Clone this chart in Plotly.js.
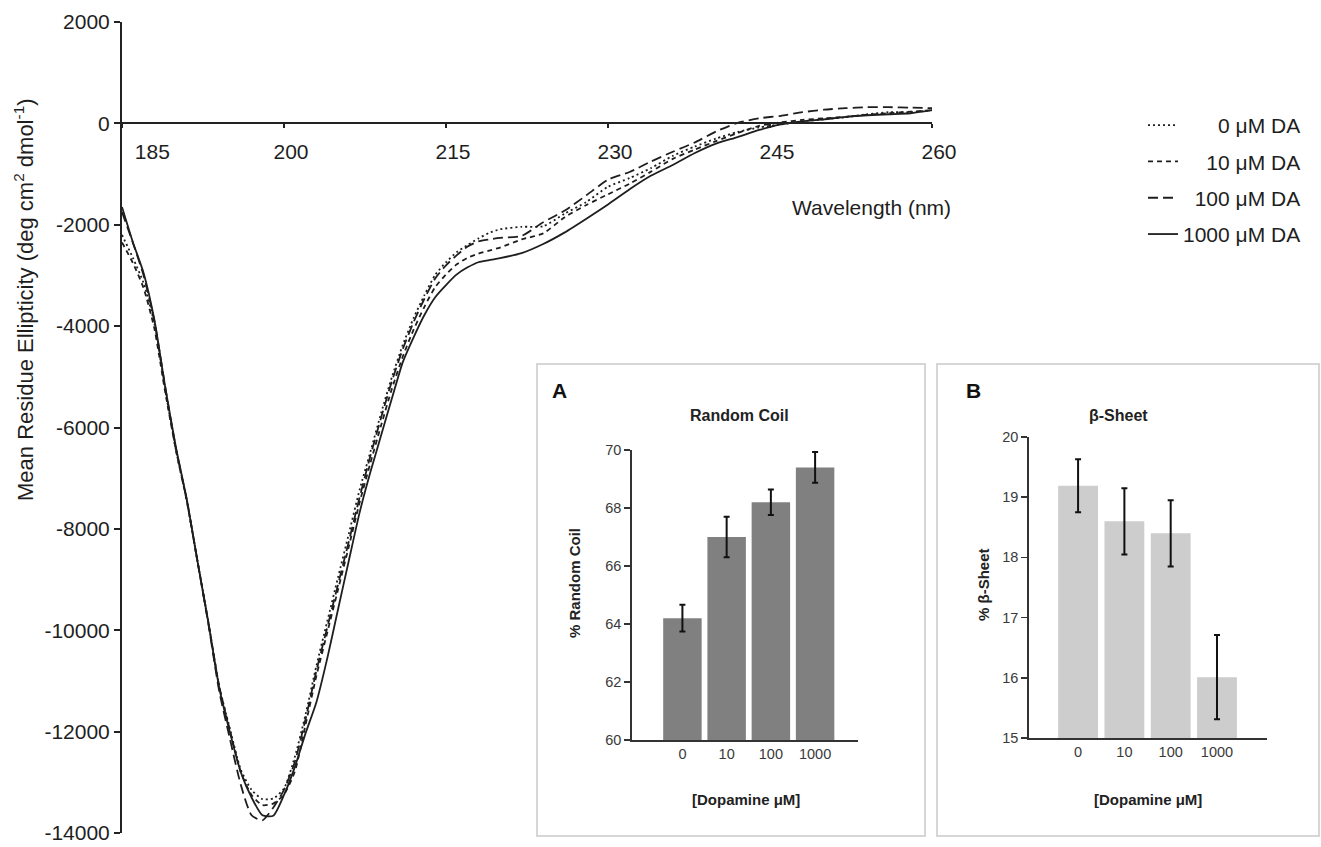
<!DOCTYPE html>
<html><head><meta charset="utf-8">
<script src="https://cdn.plot.ly/plotly-3.0.1.min.js"></script>
<style>html,body{margin:0;padding:0;background:#fff;}#chart{width:1321px;height:847px;}</style>
</head><body><div id="chart"></div>
<script>
// ---- CD spectra data ----
const wavelength = [185,186,187,188,189,190,191,192,193,194,195,196,197,198,199,200,201,202,203,204,205,206,207,208,209,210,211,212,213,214,215,216,217,218,219,220,222,224,226,228,230,232,234,236,238,240,242,244,246,248,250,252,254,256,258,260];
const da0 = [-2200,-2650,-3150,-3950,-5250,-6450,-7450,-8650,-9850,-11100,-11950,-12750,-13150,-13330,-13320,-13120,-12500,-11660,-10700,-9830,-8960,-8100,-7230,-6480,-5710,-5000,-4370,-3840,-3390,-2990,-2740,-2540,-2400,-2270,-2160,-2090,-2040,-2030,-1780,-1550,-1250,-1080,-880,-640,-460,-300,-170,-80,-20,40,80,120,180,220,220,260];
const da10 = [-2350,-2750,-3250,-4050,-5300,-6450,-7450,-8650,-9850,-11100,-11980,-12800,-13250,-13450,-13420,-13240,-12790,-11860,-10900,-10050,-9200,-8350,-7480,-6700,-5950,-5230,-4600,-4070,-3620,-3230,-2980,-2780,-2650,-2570,-2510,-2450,-2290,-2170,-1850,-1610,-1400,-1190,-950,-700,-520,-350,-190,-50,20,70,100,130,170,200,230,260];
const da100 = [-1750,-2350,-3000,-3900,-5200,-6420,-7430,-8650,-9880,-11200,-12150,-13050,-13650,-13750,-13500,-13150,-12600,-11750,-10800,-9950,-9100,-8250,-7380,-6560,-5800,-5080,-4450,-3920,-3460,-3060,-2800,-2600,-2430,-2330,-2290,-2260,-2220,-1950,-1720,-1420,-1110,-960,-750,-560,-380,-160,10,100,150,220,270,300,320,320,310,300];
const da1000 = [-1650,-2340,-2950,-3880,-5200,-6400,-7420,-8650,-9850,-11130,-12020,-12800,-13300,-13650,-13660,-13250,-12700,-12030,-11420,-10560,-9590,-8630,-7680,-6880,-6150,-5420,-4710,-4220,-3780,-3430,-3190,-2980,-2840,-2740,-2700,-2660,-2560,-2380,-2150,-1880,-1600,-1300,-1030,-820,-590,-400,-270,-130,-20,40,80,130,160,180,200,260];
const seriesNames = ["\u2007\u2007\u20070 \u03bcM DA", "\u2007\u200710 \u03bcM DA", "\u2007100 \u03bcM DA", "1000 \u03bcM DA"];
const xTickVals = [185,200,215,230,245,260];
const xTickText = ["\u00a0\u00a0\u00a0\u00a0\u00a0\u00a0\u00a0\u00a0185","200","215","230","245","260"];
const yTickVals = [2000,0,-2000,-4000,-6000,-8000,-10000,-12000,-14000];
const yTickText = ["2000","0","-2000","-4000","-6000","-8000","-10000","-12000","-14000"];

// ---- inset data ----
const dopamine = ["0","10","100","1000"];
const randomCoil = [64.2, 67.0, 68.2, 69.4];
const randomCoilErr = [0.46, 0.70, 0.44, 0.53];
const betaSheet = [19.19, 18.60, 18.40, 16.01];
const betaSheetErr = [0.44, 0.55, 0.55, 0.70];

const W = 1321, H = 847;
const px = v => v / W;
const py = v => 1 - v / H;
const FONT = "Liberation Sans, Arial, Helvetica, sans-serif";
const INK = "#1e1e1e";

const dashes = ["2px,3px", "5px,4px", "10px,5px", "solid"];
const ys = [da0, da10, da100, da1000];
const traces = ys.map((y, i) => ({
  type: "scatter", mode: "lines", x: wavelength, y: y, name: seriesNames[i],
  xaxis: "x", yaxis: "y", legendgroup: "g" + i,
  line: {color: INK, width: 1.8, dash: dashes[i], shape: "spline", smoothing: 0.6},
  hoverinfo: "skip"
}));

traces.push({
  type: "bar", x: dopamine, y: randomCoil, xaxis: "x2", yaxis: "y2", showlegend: false,
  marker: {color: "#808080"}, width: 0.87,
  error_y: {type: "data", array: randomCoilErr, color: "#111", thickness: 2, width: 3}
});
traces.push({
  type: "bar", x: dopamine, y: betaSheet, xaxis: "x3", yaxis: "y3", showlegend: false,
  marker: {color: "#cdcdcd"}, width: 0.86,
  error_y: {type: "data", array: betaSheetErr, color: "#111", thickness: 2, width: 3}
});

const insetAxisX = {
  type: "category", showgrid: false, zeroline: false, showline: true, linecolor: "#333", linewidth: 1.8,
  ticks: "", tickfont: {family: FONT, size: 14.5, color: "#3a3a3a"}, fixedrange: true
};
const insetAxisY = {
  showgrid: false, zeroline: false, showline: true, linecolor: "#333", linewidth: 1.8,
  ticks: "outside", ticklen: 6, tickwidth: 1.5, tickcolor: "#333",
  tickfont: {family: FONT, size: 14.5, color: "#3a3a3a"}, fixedrange: true
};

const layout = {
  width: W, height: H,
  margin: {l: 0, r: 0, t: 0, b: 0},
  paper_bgcolor: "#fff", plot_bgcolor: "rgba(0,0,0,0)",
  font: {family: FONT, color: INK},
  showlegend: true,
  legend: {
    x: px(1143), y: py(105), xanchor: "left", yanchor: "top",
    font: {family: FONT, size: 21, color: INK}, bgcolor: "rgba(0,0,0,0)",
    traceorder: "grouped", tracegroupgap: 6, itemwidth: 30
  },
  xaxis: {
    domain: [px(122), px(932)], range: [185, 260], anchor: "free", position: py(123),
    showgrid: false, zeroline: false, showline: true, linecolor: "#222", linewidth: 2,
    ticks: "outside", ticklen: 4, tickwidth: 2, tickcolor: "#222",
    tickvals: xTickVals, ticktext: xTickText, ticklabelshift: 7, ticklabelstandoff: 6,
    tickfont: {family: FONT, size: 21, color: INK}
  },
  yaxis: {
    domain: [py(833), py(22)], range: [-14000, 2000], anchor: "x",
    showgrid: false, zeroline: false, showline: true, linecolor: "#222", linewidth: 2,
    ticks: "outside", ticklen: 6, tickwidth: 2, tickcolor: "#222",
    tickvals: yTickVals, ticktext: yTickText, tickfont: {family: FONT, size: 21, color: INK}
  },
  xaxis2: Object.assign({}, insetAxisX, {domain: [px(632), px(858)], anchor: "y2", range: [-1.14, 3.97]}),
  yaxis2: Object.assign({}, insetAxisY, {domain: [py(740), py(450)], anchor: "x2", range: [60, 70], tickvals: [60,62,64,66,68,70]}),
  xaxis3: Object.assign({}, insetAxisX, {domain: [px(1029), px(1267)], anchor: "y3", range: [-1.06, 4.08]}),
  yaxis3: Object.assign({}, insetAxisY, {domain: [py(738), py(437)], anchor: "x3", range: [15, 20], tickvals: [15,16,17,18,19,20]}),
  shapes: [
    {type: "rect", xref: "paper", yref: "paper", x0: px(537), x1: px(925), y0: py(836), y1: py(364), line: {color: "#d6d6d6", width: 2}, fillcolor: "#fff", layer: "below"},
    {type: "rect", xref: "paper", yref: "paper", x0: px(937), x1: px(1319), y0: py(836), y1: py(364), line: {color: "#d6d6d6", width: 2}, fillcolor: "#fff", layer: "below"}
  ],
  annotations: [
    {text: "Mean Residue Ellipticity (deg cm<sup>2</sup> dmol<sup>-1</sup>)", xref: "paper", yref: "paper", x: px(24), y: py(300), xanchor: "center", yanchor: "middle", textangle: -90, showarrow: false, font: {family: FONT, size: 22, color: INK}},
    {text: "Wavelength (nm)", xref: "paper", yref: "paper", x: px(953), y: py(207), xanchor: "right", yanchor: "middle", showarrow: false, font: {family: FONT, size: 21, color: INK}},
    {text: "<b>A</b>", xref: "paper", yref: "paper", x: px(559), y: py(391), xanchor: "center", yanchor: "middle", showarrow: false, font: {family: FONT, size: 21, color: "#111"}},
    {text: "<b>B</b>", xref: "paper", yref: "paper", x: px(973), y: py(391), xanchor: "center", yanchor: "middle", showarrow: false, font: {family: FONT, size: 21, color: "#111"}},
    {text: "<b>Random Coil</b>", xref: "paper", yref: "paper", x: px(740), y: py(415), xanchor: "center", yanchor: "middle", showarrow: false, font: {family: FONT, size: 16, color: "#222"}},
    {text: "<b>\u03b2-Sheet</b>", xref: "paper", yref: "paper", x: px(1118), y: py(415), xanchor: "center", yanchor: "middle", showarrow: false, font: {family: FONT, size: 16, color: "#222"}},
    {text: "<b>[Dopamine \u03bcM]</b>", xref: "paper", yref: "paper", x: px(746), y: py(799), xanchor: "center", yanchor: "middle", showarrow: false, font: {family: FONT, size: 15, color: "#222"}},
    {text: "<b>[Dopamine \u03bcM]</b>", xref: "paper", yref: "paper", x: px(1148), y: py(799), xanchor: "center", yanchor: "middle", showarrow: false, font: {family: FONT, size: 15, color: "#222"}},
    {text: "<b>% Random Coil</b>", xref: "paper", yref: "paper", x: px(574), y: py(583), xanchor: "center", yanchor: "middle", textangle: -90, showarrow: false, font: {family: FONT, size: 15, color: "#222"}},
    {text: "<b>% \u03b2-Sheet</b>", xref: "paper", yref: "paper", x: px(983), y: py(585), xanchor: "center", yanchor: "middle", textangle: -90, showarrow: false, font: {family: FONT, size: 15, color: "#222"}}
  ]
};

Plotly.newPlot("chart", traces, layout, {displayModeBar: false, staticPlot: true});
</script>
</body></html>
